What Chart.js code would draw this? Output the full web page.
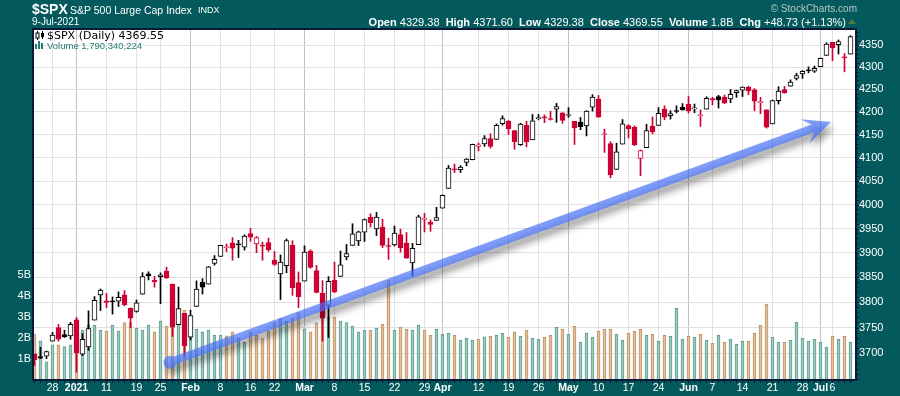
<!DOCTYPE html>
<html>
<head>
<meta charset="utf-8">
<script src="https://cdn.jsdelivr.net/npm/chart.js@4.4.0/dist/chart.umd.min.js"></script>
<style>
  html, body { margin: 0; padding: 0; background: #03595b; }
  #wrap { position: relative; width: 900px; height: 396px; background: #03595b; overflow: hidden;
          font-family: "Liberation Sans", Arial, sans-serif; color: #fff; }
  #c { position: absolute; left: 0; top: 0; }
  .t { position: absolute; white-space: nowrap; line-height: 1; }
</style>
</head>
<body>
<div id="wrap">
  <canvas id="c" width="900" height="396"></canvas>
  <div class="t" style="left:32px;top:2px;font-size:14px;font-weight:bold">$SPX</div>
  <div class="t" style="left:70px;top:5px;font-size:10.5px">S&amp;P 500 Large Cap Index</div>
  <div class="t" style="left:198px;top:6px;font-size:9px">INDX</div>
  <div class="t" style="left:32px;top:17px;font-size:10px">9-Jul-2021</div>
  <div class="t" style="right:43px;top:4px;font-size:10px;color:#b9c6c6">&copy; StockCharts.com</div>
  <div class="t" style="right:54px;top:17px;font-size:11px"><b>Open</b> 4329.38&nbsp; <b>High</b> 4371.60&nbsp; <b>Low</b> 4329.38&nbsp; <b>Close</b> 4369.55&nbsp; <b>Volume</b> 1.8B&nbsp; <b>Chg</b> +48.73 (+1.13%)</div>
  <div style="position:absolute;left:848px;top:19px;width:0;height:0;border-left:4px solid transparent;border-right:4px solid transparent;border-bottom:5px solid #4f7a3a"></div>
  <svg style="position:absolute;left:35px;top:31px" width="10" height="9">
    <line x1="2.5" y1="0" x2="2.5" y2="9" stroke="#000"/><rect x="1" y="2" width="3" height="5" fill="#fff" stroke="#000"/>
    <line x1="7.5" y1="0" x2="7.5" y2="8" stroke="#000"/><rect x="6" y="2" width="3" height="4" fill="#000"/>
  </svg>
  <div class="t" style="left:47px;top:30px;font-size:11px;font-family:'DejaVu Sans',sans-serif;color:#000">$SPX (Daily) 4369.55</div>
  <svg style="position:absolute;left:35px;top:41px" width="10" height="8">
    <rect x="0" y="3" width="2" height="5" fill="#1f7d6f"/><rect x="3" y="0" width="2" height="8" fill="#1f7d6f"/>
    <rect x="6" y="2" width="2" height="6" fill="#1f7d6f"/>
  </svg>
  <div class="t" style="left:47px;top:41px;font-size:9.5px;color:#1f7d6f">Volume 1,790,340,224</div>
</div>
<script>
// Datos diarios del $SPX (22-dic-2020 a 9-jul-2021)
const dates = [
  '12/22','12/23','12/24','12/28','12/29','12/30','12/31',
  '1/4','1/5','1/6','1/7','1/8','1/11','1/12','1/13','1/14','1/15','1/19','1/20','1/21','1/22','1/25','1/26','1/27','1/28','1/29',
  '2/1','2/2','2/3','2/4','2/5','2/8','2/9','2/10','2/11','2/12','2/16','2/17','2/18','2/19','2/22','2/23','2/24','2/25','2/26',
  '3/1','3/2','3/3','3/4','3/5','3/8','3/9','3/10','3/11','3/12','3/15','3/16','3/17','3/18','3/19','3/22','3/23','3/24','3/25','3/26','3/29','3/30','3/31',
  '4/1','4/5','4/6','4/7','4/8','4/9','4/12','4/13','4/14','4/15','4/16','4/19','4/20','4/21','4/22','4/23','4/26','4/27','4/28','4/29','4/30',
  '5/3','5/4','5/5','5/6','5/7','5/10','5/11','5/12','5/13','5/14','5/17','5/18','5/19','5/20','5/21','5/24','5/25','5/26','5/27','5/28',
  '6/1','6/2','6/3','6/4','6/7','6/8','6/9','6/10','6/11','6/14','6/15','6/16','6/17','6/18','6/21','6/22','6/23','6/24','6/25','6/28','6/29','6/30',
  '7/1','7/2','7/6','7/7','7/8','7/9'
];
const opens = [
  3698.08, 3693.42, 3694.03, 3723.03, 3750.01, 3736.19, 3733.27,
  3764.61, 3698.02, 3712.20, 3764.71, 3815.05, 3803.14, 3801.62, 3802.23, 3814.98, 3788.73, 3781.88, 3816.22, 3857.46, 3844.24, 3851.68, 3862.96, 3836.83, 3755.75, 3778.05,
  3731.17, 3791.84, 3840.27, 3836.66, 3878.30, 3892.59, 3910.49, 3920.78, 3916.40, 3911.65, 3939.61, 3918.50, 3915.86, 3921.16, 3885.55, 3857.07, 3873.71, 3915.80, 3839.66,
  3842.51, 3903.64, 3863.99, 3818.53, 3793.58, 3844.39, 3851.93, 3891.99, 3915.54, 3924.52, 3942.96, 3973.59, 3949.57, 3953.50, 3913.14, 3916.48, 3937.60, 3919.93, 3879.34, 3917.12, 3969.31, 3963.34, 3967.25,
  3992.78, 4034.44, 4075.57, 4074.29, 4089.95, 4096.11, 4124.71, 4130.10, 4141.58, 4139.76, 4174.14, 4179.80, 4159.18, 4128.42, 4170.46, 4138.78, 4185.03, 4188.25, 4185.14, 4206.14, 4198.10,
  4191.98, 4179.04, 4177.06, 4169.14, 4210.34, 4228.29, 4150.34, 4130.55, 4074.99, 4129.58, 4169.92, 4165.94, 4098.45, 4121.97, 4168.61, 4170.16, 4205.94, 4191.59, 4201.94, 4210.77,
  4216.52, 4206.82, 4191.43, 4206.05, 4229.34, 4233.81, 4232.99, 4228.56, 4242.90, 4248.31, 4255.28, 4248.87, 4220.37, 4204.78, 4173.40, 4224.61, 4249.27, 4256.97, 4274.45, 4284.90, 4293.21, 4290.65,
  4300.73, 4326.60, 4356.46, 4351.01, 4321.07, 4329.38
];
const highs = [
  3698.26, 3711.24, 3703.82, 3740.51, 3756.12, 3744.63, 3760.20,
  3769.99, 3737.83, 3783.04, 3811.55, 3826.69, 3817.86, 3810.78, 3820.96, 3823.60, 3788.73, 3804.53, 3859.75, 3861.45, 3852.31, 3859.23, 3870.90, 3836.83, 3830.50, 3778.05,
  3784.32, 3843.09, 3847.51, 3872.42, 3894.56, 3915.77, 3918.35, 3931.50, 3925.99, 3937.23, 3950.43, 3933.61, 3921.98, 3930.41, 3902.92, 3895.98, 3928.65, 3925.02, 3861.08,
  3914.50, 3906.41, 3874.47, 3843.67, 3851.69, 3881.06, 3903.76, 3917.35, 3960.27, 3944.99, 3970.08, 3981.04, 3983.87, 3969.62, 3930.12, 3955.31, 3949.13, 3942.08, 3919.54, 3978.19, 3981.83, 3968.01, 3994.41,
  4020.63, 4083.42, 4086.23, 4083.13, 4098.19, 4129.48, 4131.76, 4148.00, 4151.69, 4173.49, 4191.31, 4180.81, 4159.18, 4175.02, 4179.57, 4194.17, 4194.19, 4193.35, 4201.53, 4218.78, 4198.10,
  4209.39, 4179.04, 4187.72, 4202.70, 4238.04, 4236.39, 4162.04, 4134.73, 4131.58, 4183.13, 4171.92, 4169.15, 4116.93, 4172.80, 4188.72, 4209.52, 4213.42, 4202.61, 4213.38, 4218.36,
  4234.12, 4217.37, 4204.39, 4233.45, 4232.34, 4236.74, 4237.09, 4249.74, 4248.38, 4255.59, 4257.16, 4251.89, 4232.29, 4204.78, 4226.24, 4255.84, 4256.60, 4271.28, 4286.12, 4292.14, 4300.52, 4302.43,
  4320.66, 4355.43, 4356.46, 4361.88, 4330.88, 4371.60
];
const lows = [
  3676.16, 3689.28, 3689.32, 3723.03, 3723.31, 3730.21, 3726.88,
  3662.71, 3695.07, 3705.34, 3764.71, 3783.60, 3789.02, 3776.51, 3791.50, 3792.86, 3749.62, 3780.37, 3816.22, 3845.05, 3830.41, 3797.16, 3847.78, 3732.48, 3755.75, 3694.12,
  3725.62, 3791.84, 3816.68, 3836.66, 3874.93, 3892.59, 3902.64, 3884.94, 3890.39, 3905.78, 3923.85, 3900.43, 3885.03, 3903.07, 3874.71, 3805.59, 3859.60, 3814.04, 3789.54,
  3842.51, 3868.57, 3818.86, 3723.34, 3730.19, 3819.25, 3851.93, 3885.73, 3915.54, 3915.21, 3923.54, 3953.44, 3935.74, 3910.86, 3886.75, 3914.16, 3901.57, 3889.07, 3853.50, 3917.12, 3943.25, 3944.35, 3966.98,
  3992.78, 4034.44, 4068.14, 4068.31, 4082.54, 4095.51, 4114.82, 4124.43, 4120.87, 4139.76, 4170.75, 4150.47, 4118.38, 4126.35, 4123.69, 4138.78, 4182.36, 4176.22, 4181.78, 4176.81, 4174.85,
  4188.03, 4128.59, 4160.94, 4147.33, 4201.64, 4188.13, 4111.53, 4056.88, 4074.99, 4129.58, 4142.69, 4125.99, 4061.41, 4121.97, 4151.72, 4170.16, 4182.52, 4184.11, 4197.78, 4203.57,
  4197.59, 4198.27, 4167.93, 4206.05, 4215.66, 4208.41, 4218.74, 4220.34, 4232.25, 4234.07, 4238.35, 4202.45, 4196.05, 4164.40, 4173.40, 4217.27, 4241.43, 4256.97, 4271.16, 4274.67, 4287.04, 4287.96,
  4300.73, 4326.60, 4314.37, 4329.79, 4289.37, 4329.38
];
const closes = [
  3687.26, 3690.01, 3703.06, 3735.36, 3727.04, 3732.04, 3756.07,
  3700.65, 3726.86, 3748.14, 3803.79, 3824.68, 3799.61, 3801.19, 3809.84, 3795.54, 3768.25, 3798.91, 3851.85, 3853.07, 3841.47, 3855.36, 3849.62, 3750.77, 3787.38, 3714.24,
  3773.86, 3826.31, 3830.17, 3871.74, 3886.83, 3915.59, 3911.23, 3909.88, 3916.38, 3934.83, 3932.59, 3931.33, 3913.97, 3906.71, 3876.50, 3881.37, 3925.43, 3829.34, 3811.15,
  3901.82, 3870.29, 3819.72, 3768.47, 3841.94, 3821.35, 3875.44, 3898.81, 3939.34, 3943.34, 3968.94, 3962.71, 3974.12, 3915.46, 3913.10, 3940.59, 3910.52, 3889.14, 3909.52, 3974.54, 3971.09, 3958.55, 3972.89,
  4019.87, 4077.91, 4073.94, 4079.95, 4097.17, 4128.80, 4127.99, 4141.59, 4124.66, 4170.42, 4185.47, 4163.26, 4134.94, 4173.42, 4134.98, 4180.17, 4187.62, 4186.72, 4183.18, 4211.47, 4181.17,
  4192.66, 4164.66, 4167.59, 4201.62, 4232.60, 4188.43, 4152.10, 4063.04, 4112.50, 4173.85, 4163.29, 4127.83, 4115.68, 4159.12, 4155.86, 4197.05, 4188.13, 4195.99, 4200.88, 4204.11,
  4202.04, 4208.12, 4192.85, 4229.89, 4226.52, 4227.26, 4219.55, 4239.18, 4247.44, 4255.15, 4246.59, 4223.70, 4221.86, 4166.45, 4224.79, 4246.44, 4241.84, 4266.49, 4280.70, 4290.61, 4291.80, 4297.50,
  4319.94, 4352.34, 4343.54, 4358.13, 4320.82, 4369.55
];
// Volumen en miles de millones
const volumes = [
  2.17, 1.86, 0.86, 1.67, 1.67, 1.59, 1.67,
  2.90, 2.38, 2.62, 2.62, 2.38, 2.33, 2.62, 2.33, 2.73, 2.73, 2.46, 2.38, 2.62, 2.29, 2.81, 2.57, 3.40, 2.70, 3.33,
  2.45, 2.41, 2.29, 2.38, 2.13, 2.13, 2.10, 2.29, 1.98, 1.81, 2.29, 2.13, 1.97, 2.33, 2.73, 2.92, 2.81, 2.94, 3.21,
  2.44, 2.29, 2.73, 3.30, 3.00, 3.00, 2.81, 2.73, 2.57, 2.29, 2.38, 2.38, 2.46, 2.65, 4.73, 2.38, 2.52, 2.41, 2.38, 2.62, 2.38, 2.13, 2.41,
  2.17, 2.22, 2.13, 1.90, 1.98, 1.90, 1.95, 2.05, 2.08, 2.13, 2.22, 2.03, 2.29, 2.08, 2.38, 1.98, 1.94, 2.03, 2.13, 2.51, 2.41,
  2.17, 2.56, 1.79, 2.22, 2.03, 2.32, 2.41, 2.41, 2.17, 1.89, 2.22, 2.32, 2.41, 2.13, 2.17, 1.84, 2.13, 2.08, 3.41, 1.94,
  2.08, 2.03, 2.17, 1.89, 1.75, 2.13, 1.79, 1.94, 1.70, 1.84, 1.84, 2.22, 2.60, 3.62, 2.03, 1.79, 1.79, 1.89, 2.75, 1.98, 1.84, 1.94,
  1.79, 1.56, 2.08, 1.94, 2.08, 1.79
];
const priceTicks = [3700, 3750, 3800, 3850, 3900, 3950, 4000, 4050, 4100, 4150, 4200, 4250, 4300, 4350];
const volumeTicks = [1, 2, 3, 4, 5];
const xTickDates = ['12/28','1/4','1/11','1/19','1/25','2/1','2/8','2/16','2/22','3/1','3/8','3/15','3/22','3/29',
                    '4/1','4/12','4/19','4/26','5/3','5/10','5/17','5/24','6/1','6/7','6/14','6/21','6/28','7/1','7/6'];
const xTickLabels = ['28','2021','11','19','25','Feb','8','16','22','Mar','8','15','22','29',
                     'Apr','12','19','26','May','10','17','24','Jun','7','14','21','28','Jul','6'];
const monthLabels = ['2021','Feb','Mar','Apr','May','Jun','Jul'];
// Flecha de tendencia (índice de barra, precio)
const arrowFrom = { x: 22.58, y: 3682 };
const arrowTo = { x: 132.75, y: 4178 };

const colores = {
    up: '#000000',
    down: '#cc0033',
    volUp: '#9dcbc0',
    volUpBorder: '#5f9d91',
    volDown: '#e2c29c',
    volDownBorder: '#bf9264',
    grid: '#e1e1e1',
    gridMonth: '#c3c3c3',
    frame: '#0c1a3a',
    arrow: 'rgba(70, 112, 250, 0.68)'
};

const candleColor = closes.map((c, i) => (c < (i === 0 ? opens[0] : closes[i - 1]) ? colores.down : colores.up));
const bodyFill = closes.map((c, i) => (c > opens[i] ? '#ffffff' : candleColor[i]));
const volFill = candleColor.map(c => (c === colores.down ? colores.volDown : colores.volUp));
const volBorder = candleColor.map(c => (c === colores.down ? colores.volDownBorder : colores.volUpBorder));
const tickIdx = xTickDates.map(d => dates.indexOf(d));

// Fondo blanco del área y marco
const fondo = {
    id: 'fondo',
    beforeDraw(chart) {
        const { ctx, chartArea: a } = chart;
        ctx.save();
        ctx.fillStyle = '#ffffff';
        ctx.fillRect(a.left, a.top, a.right - a.left, a.bottom - a.top);
        ctx.restore();
    },
    afterDraw(chart) {
        const { ctx, chartArea: a, scales } = chart;
        ctx.save();
        ctx.strokeStyle = colores.frame;
        ctx.lineWidth = 2;
        ctx.strokeRect(a.left, a.top, a.right - a.left, a.bottom - a.top);
        ctx.fillStyle = colores.frame;
        dates.forEach((d, i) => {
            const x = Math.round(scales.x.getPixelForValue(i) - 0.5);
            ctx.fillRect(x, a.bottom, 1, 3);
        });
        for (let v = 3650; v <= 4380; v += 10) {
            const y = Math.round(scales.y.getPixelForValue(v));
            ctx.fillRect(a.right, y, 3, 1);
        }
        ctx.restore();
    }
};

// Flecha azul con sombra
const flecha = {
    id: 'flecha',
    afterDatasetsDraw(chart) {
        const { ctx, scales } = chart;
        const x0 = scales.x.getPixelForValue(arrowFrom.x), y0 = scales.y.getPixelForValue(arrowFrom.y);
        const x1 = scales.x.getPixelForValue(arrowTo.x), y1 = scales.y.getPixelForValue(arrowTo.y);
        const len = Math.hypot(x1 - x0, y1 - y0);
        const ux = (x1 - x0) / len, uy = (y1 - y0) / len, nx = -uy, ny = ux;
        const half = 4, headLen = 28, headHalf = 13, notch = 19, r = 6.5;
        const p = (a, b) => [x1 + ux * a + nx * b, y1 + uy * a + ny * b];
        const pts = [
            [x0 + nx * half, y0 + ny * half], p(-notch, half), p(-headLen, headHalf), [x1, y1],
            p(-headLen, -headHalf), p(-notch, -half), [x0 - nx * half, y0 - ny * half]
        ];
        let area = 0;
        pts.forEach((q, i) => {
            const n = pts[(i + 1) % pts.length];
            area += q[0] * n[1] - n[0] * q[1];
        });
        ctx.save();
        ctx.beginPath();
        pts.forEach((q, i) => (i ? ctx.lineTo(q[0], q[1]) : ctx.moveTo(q[0], q[1])));
        ctx.closePath();
        ctx.moveTo(x0 + r, y0);
        ctx.arc(x0, y0, r, 0, Math.PI * 2, area < 0);
        ctx.shadowColor = 'rgba(0, 0, 0, 0.55)';
        ctx.shadowBlur = 7;
        ctx.shadowOffsetX = 3;
        ctx.shadowOffsetY = 6;
        ctx.fillStyle = colores.arrow;
        ctx.fill();
        ctx.restore();
    }
};

Chart.defaults.font.family = '"Liberation Sans", Arial, sans-serif';

new Chart(document.getElementById('c'), {
    type: 'bar',
    data: {
        datasets: [{
            label: 'Cuerpos',
            data: closes.map((c, i) => ({ x: i, y: [opens[i], c] })),
            yAxisID: 'y',
            grouped: false,
            barThickness: 5,
            minBarLength: 1,
            backgroundColor: bodyFill,
            borderColor: candleColor,
            borderWidth: 1,
            borderSkipped: false,
            order: 1
        }, {
            label: 'Mechas',
            data: lows.map((l, i) => ({ x: i, y: [l, highs[i]] })),
            yAxisID: 'y',
            grouped: false,
            barThickness: 1,
            backgroundColor: candleColor,
            borderWidth: 0,
            order: 2
        }, {
            label: 'Volumen',
            data: volumes.map((v, i) => ({ x: i, y: v })),
            yAxisID: 'yv',
            grouped: false,
            barThickness: 3,
            backgroundColor: volFill,
            borderColor: volBorder,
            borderWidth: 1,
            borderSkipped: 'start',
            order: 3
        }]
    },
    options: {
        responsive: false,
        animation: false,
        events: [],
        layout: { padding: { top: 29, left: 0, right: 0, bottom: 0 } },
        plugins: { legend: { display: false }, tooltip: { enabled: false } },
        scales: {
            x: {
                type: 'linear',
                position: 'bottom',
                min: -0.25,
                max: 136.9167,
                offset: false,
                afterBuildTicks: s => { s.ticks = tickIdx.map(v => ({ value: v })); },
                afterFit: s => { s.height = 16; },
                ticks: {
                    autoSkip: false,
                    maxRotation: 0,
                    padding: 2,
                    color: '#ffffff',
                    font: ctx => ({ size: 10.5, weight: monthLabels.includes(xTickLabels[ctx.index]) ? 'bold' : 'normal' }),
                    callback: (v, i) => xTickLabels[i]
                },
                grid: {
                    offset: false,
                    drawTicks: false,
                    color: ctx => (monthLabels.includes(xTickLabels[ctx.index]) ? colores.gridMonth : colores.grid)
                },
                border: { display: false }
            },
            y: {
                type: 'logarithmic',
                position: 'right',
                min: 3648,
                max: 4387,
                afterBuildTicks: s => { s.ticks = priceTicks.map(v => ({ value: v })); },
                afterFit: s => { s.width = 44; },
                ticks: { color: '#ffffff', padding: 3, font: { size: 11 }, callback: v => String(v) },
                grid: { color: colores.grid, drawTicks: false },
                border: { display: false }
            },
            yv: {
                type: 'linear',
                position: 'left',
                min: 0,
                max: 16.71,
                afterBuildTicks: s => { s.ticks = volumeTicks.map(v => ({ value: v })); },
                afterFit: s => { s.width = 33; },
                ticks: { color: '#ffffff', padding: 2, font: { size: 11 }, callback: v => v + 'B' },
                grid: { display: false, drawTicks: false },
                border: { display: false }
            }
        }
    },
    plugins: [fondo, flecha]
});
</script>
</body>
</html>
